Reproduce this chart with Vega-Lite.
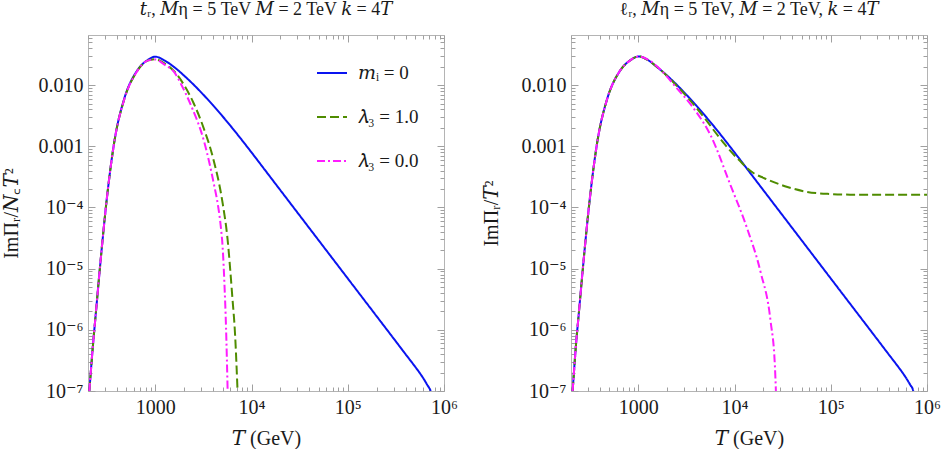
{
  "$schema": "https://vega.github.io/schema/vega-lite/v6.json",
  "padding": {"left": 0, "top": 0, "right": 5, "bottom": 0},
  "bounds": "flush",
  "spacing": 127,
  "config": {
    "font": "Liberation Serif, DejaVu Serif, serif",
    "view": {"stroke": "#b4b4b4", "strokeWidth": 1},
    "axis": {
      "domain": false,
      "grid": false,
      "tickColor": "#a0a0a0",
      "tickWidth": 1,
      "labelFont": "Liberation Serif, DejaVu Serif, serif",
      "labelFontSize": 20,
      "labelColor": "#1a1a1a",
      "labelFlush": false,
      "labelOverlap": false,
      "labelBound": false,
      "titleFont": "Liberation Serif, DejaVu Serif, serif",
      "titleFontSize": 20,
      "titleFontWeight": "normal",
      "titleColor": "#1a1a1a"
    },
    "title": {"font": "Liberation Serif, DejaVu Serif, serif", "fontSize": 18, "fontWeight": "normal", "color": "#1a1a1a", "offset": 9},
    "legend": {
      "orient": "none",
      "legendX": 228,
      "legendY": 22,
      "padding": 0,
      "symbolType": "stroke",
      "symbolSize": 900,
      "symbolStrokeWidth": 2,
      "labelFont": "Liberation Serif, DejaVu Serif, serif",
      "labelFontSize": 19,
      "labelColor": "#1a1a1a",
      "labelOffset": 10,
      "rowPadding": 18
    }
  },
  "datasets": {
    "curves": [
      {"panel": "tR", "series": "mi0", "T": 206.5, "value": 1e-7},
      {"panel": "tR", "series": "mi0", "T": 223.9, "value": 5.01e-7},
      {"panel": "tR", "series": "mi0", "T": 242.1, "value": 2.0e-6},
      {"panel": "tR", "series": "mi0", "T": 272.9, "value": 1.585e-5},
      {"panel": "tR", "series": "mi0", "T": 309.0, "value": 1.122e-4},
      {"panel": "tR", "series": "mi0", "T": 375.0, "value": 1.175e-3},
      {"panel": "tR", "series": "mi0", "T": 476.4, "value": 6.026e-3},
      {"panel": "tR", "series": "mi0", "T": 631.0, "value": 1.622e-2},
      {"panel": "tR", "series": "mi0", "T": 831.8, "value": 2.570e-2},
      {"panel": "tR", "series": "mi0", "T": 1000, "value": 2.917e-2},
      {"panel": "tR", "series": "mi0", "T": 1259, "value": 2.512e-2},
      {"panel": "tR", "series": "mi0", "T": 1585, "value": 1.950e-2},
      {"panel": "tR", "series": "mi0", "T": 1995, "value": 1.429e-2},
      {"panel": "tR", "series": "mi0", "T": 2512, "value": 1.012e-2},
      {"panel": "tR", "series": "mi0", "T": 3162, "value": 6.966e-3},
      {"panel": "tR", "series": "mi0", "T": 3981, "value": 4.688e-3},
      {"panel": "tR", "series": "mi0", "T": 5012, "value": 3.083e-3},
      {"panel": "tR", "series": "mi0", "T": 6310, "value": 1.991e-3},
      {"panel": "tR", "series": "mi0", "T": 7943, "value": 1.265e-3},
      {"panel": "tR", "series": "mi0", "T": 10000, "value": 7.943e-4},
      {"panel": "tR", "series": "mi0", "T": 15850, "value": 3.076e-4},
      {"panel": "tR", "series": "mi0", "T": 25120, "value": 1.191e-4},
      {"panel": "tR", "series": "mi0", "T": 39810, "value": 4.613e-5},
      {"panel": "tR", "series": "mi0", "T": 63100, "value": 1.786e-5},
      {"panel": "tR", "series": "mi0", "T": 100000, "value": 6.918e-6},
      {"panel": "tR", "series": "mi0", "T": 158500, "value": 2.679e-6},
      {"panel": "tR", "series": "mi0", "T": 251200, "value": 1.038e-6},
      {"panel": "tR", "series": "mi0", "T": 316200, "value": 6.457e-7},
      {"panel": "tR", "series": "mi0", "T": 398100, "value": 4.009e-7},
      {"panel": "tR", "series": "mi0", "T": 501200, "value": 2.495e-7},
      {"panel": "tR", "series": "mi0", "T": 562300, "value": 1.950e-7},
      {"panel": "tR", "series": "mi0", "T": 631000, "value": 1.479e-7},
      {"panel": "tR", "series": "mi0", "T": 676100, "value": 1.230e-7},
      {"panel": "tR", "series": "mi0", "T": 707900, "value": 1.096e-7},
      {"panel": "tR", "series": "mi0", "T": 729500, "value": 1e-7},
      {"panel": "tR", "series": "lam1", "T": 206.5, "value": 1e-7},
      {"panel": "tR", "series": "lam1", "T": 223.9, "value": 5.01e-7},
      {"panel": "tR", "series": "lam1", "T": 242.1, "value": 2.0e-6},
      {"panel": "tR", "series": "lam1", "T": 272.9, "value": 1.585e-5},
      {"panel": "tR", "series": "lam1", "T": 309.0, "value": 1.122e-4},
      {"panel": "tR", "series": "lam1", "T": 375.0, "value": 1.175e-3},
      {"panel": "tR", "series": "lam1", "T": 476.4, "value": 5.888e-3},
      {"panel": "tR", "series": "lam1", "T": 631.0, "value": 1.585e-2},
      {"panel": "tR", "series": "lam1", "T": 831.8, "value": 2.512e-2},
      {"panel": "tR", "series": "lam1", "T": 1000, "value": 2.661e-2},
      {"panel": "tR", "series": "lam1", "T": 1259, "value": 2.239e-2},
      {"panel": "tR", "series": "lam1", "T": 1585, "value": 1.660e-2},
      {"panel": "tR", "series": "lam1", "T": 1995, "value": 1.0e-2},
      {"panel": "tR", "series": "lam1", "T": 2512, "value": 5.012e-3},
      {"panel": "tR", "series": "lam1", "T": 3162, "value": 2.042e-3},
      {"panel": "tR", "series": "lam1", "T": 3981, "value": 6.457e-4},
      {"panel": "tR", "series": "lam1", "T": 5012, "value": 1.175e-4},
      {"panel": "tR", "series": "lam1", "T": 5623, "value": 3.162e-5},
      {"panel": "tR", "series": "lam1", "T": 6310, "value": 3.548e-6},
      {"panel": "tR", "series": "lam1", "T": 6761, "value": 7.943e-7},
      {"panel": "tR", "series": "lam1", "T": 7161, "value": 1e-7},
      {"panel": "tR", "series": "lam0", "T": 206.5, "value": 1e-7},
      {"panel": "tR", "series": "lam0", "T": 223.9, "value": 5.01e-7},
      {"panel": "tR", "series": "lam0", "T": 242.1, "value": 2.0e-6},
      {"panel": "tR", "series": "lam0", "T": 272.9, "value": 1.585e-5},
      {"panel": "tR", "series": "lam0", "T": 309.0, "value": 1.122e-4},
      {"panel": "tR", "series": "lam0", "T": 375.0, "value": 1.175e-3},
      {"panel": "tR", "series": "lam0", "T": 476.4, "value": 5.888e-3},
      {"panel": "tR", "series": "lam0", "T": 631.0, "value": 1.585e-2},
      {"panel": "tR", "series": "lam0", "T": 831.8, "value": 2.512e-2},
      {"panel": "tR", "series": "lam0", "T": 1000, "value": 2.630e-2},
      {"panel": "tR", "series": "lam0", "T": 1259, "value": 2.138e-2},
      {"panel": "tR", "series": "lam0", "T": 1574, "value": 1.629e-2},
      {"panel": "tR", "series": "lam0", "T": 1849, "value": 1.047e-2},
      {"panel": "tR", "series": "lam0", "T": 2350, "value": 4.656e-3},
      {"panel": "tR", "series": "lam0", "T": 3228, "value": 1.172e-3},
      {"panel": "tR", "series": "lam0", "T": 4093, "value": 2.296e-4},
      {"panel": "tR", "series": "lam0", "T": 4467, "value": 1.122e-4},
      {"panel": "tR", "series": "lam0", "T": 4786, "value": 5.012e-5},
      {"panel": "tR", "series": "lam0", "T": 5012, "value": 2.239e-5},
      {"panel": "tR", "series": "lam0", "T": 5248, "value": 5.012e-6},
      {"panel": "tR", "series": "lam0", "T": 5433, "value": 1.122e-6},
      {"panel": "tR", "series": "lam0", "T": 5649, "value": 1e-7},
      {"panel": "lR", "series": "mi0", "T": 208.0, "value": 1e-7},
      {"panel": "lR", "series": "mi0", "T": 223.9, "value": 5.01e-7},
      {"panel": "lR", "series": "mi0", "T": 242.1, "value": 2.0e-6},
      {"panel": "lR", "series": "mi0", "T": 272.9, "value": 1.585e-5},
      {"panel": "lR", "series": "mi0", "T": 309.0, "value": 1.122e-4},
      {"panel": "lR", "series": "mi0", "T": 375.0, "value": 1.175e-3},
      {"panel": "lR", "series": "mi0", "T": 476.4, "value": 6.026e-3},
      {"panel": "lR", "series": "mi0", "T": 631.0, "value": 1.622e-2},
      {"panel": "lR", "series": "mi0", "T": 831.8, "value": 2.570e-2},
      {"panel": "lR", "series": "mi0", "T": 1010, "value": 2.944e-2},
      {"panel": "lR", "series": "mi0", "T": 1259, "value": 2.570e-2},
      {"panel": "lR", "series": "mi0", "T": 1585, "value": 1.950e-2},
      {"panel": "lR", "series": "mi0", "T": 1995, "value": 1.429e-2},
      {"panel": "lR", "series": "mi0", "T": 2512, "value": 1.012e-2},
      {"panel": "lR", "series": "mi0", "T": 3162, "value": 6.966e-3},
      {"panel": "lR", "series": "mi0", "T": 3981, "value": 4.688e-3},
      {"panel": "lR", "series": "mi0", "T": 5012, "value": 3.083e-3},
      {"panel": "lR", "series": "mi0", "T": 6310, "value": 1.991e-3},
      {"panel": "lR", "series": "mi0", "T": 7943, "value": 1.265e-3},
      {"panel": "lR", "series": "mi0", "T": 10000, "value": 7.943e-4},
      {"panel": "lR", "series": "mi0", "T": 15850, "value": 3.076e-4},
      {"panel": "lR", "series": "mi0", "T": 25120, "value": 1.191e-4},
      {"panel": "lR", "series": "mi0", "T": 39810, "value": 4.613e-5},
      {"panel": "lR", "series": "mi0", "T": 63100, "value": 1.786e-5},
      {"panel": "lR", "series": "mi0", "T": 100000, "value": 6.918e-6},
      {"panel": "lR", "series": "mi0", "T": 158500, "value": 2.679e-6},
      {"panel": "lR", "series": "mi0", "T": 251200, "value": 1.038e-6},
      {"panel": "lR", "series": "mi0", "T": 316200, "value": 6.457e-7},
      {"panel": "lR", "series": "mi0", "T": 398100, "value": 4.009e-7},
      {"panel": "lR", "series": "mi0", "T": 501200, "value": 2.495e-7},
      {"panel": "lR", "series": "mi0", "T": 562300, "value": 1.950e-7},
      {"panel": "lR", "series": "mi0", "T": 631000, "value": 1.479e-7},
      {"panel": "lR", "series": "mi0", "T": 676100, "value": 1.230e-7},
      {"panel": "lR", "series": "mi0", "T": 707900, "value": 1.096e-7},
      {"panel": "lR", "series": "mi0", "T": 721100, "value": 1e-7},
      {"panel": "lR", "series": "lam1", "T": 208.0, "value": 1e-7},
      {"panel": "lR", "series": "lam1", "T": 223.9, "value": 5.01e-7},
      {"panel": "lR", "series": "lam1", "T": 242.1, "value": 2.0e-6},
      {"panel": "lR", "series": "lam1", "T": 272.9, "value": 1.585e-5},
      {"panel": "lR", "series": "lam1", "T": 309.0, "value": 1.122e-4},
      {"panel": "lR", "series": "lam1", "T": 375.0, "value": 1.175e-3},
      {"panel": "lR", "series": "lam1", "T": 476.4, "value": 6.026e-3},
      {"panel": "lR", "series": "lam1", "T": 631.0, "value": 1.622e-2},
      {"panel": "lR", "series": "lam1", "T": 831.8, "value": 2.570e-2},
      {"panel": "lR", "series": "lam1", "T": 1010, "value": 2.944e-2},
      {"panel": "lR", "series": "lam1", "T": 1259, "value": 2.570e-2},
      {"panel": "lR", "series": "lam1", "T": 1585, "value": 1.950e-2},
      {"panel": "lR", "series": "lam1", "T": 1995, "value": 1.412e-2},
      {"panel": "lR", "series": "lam1", "T": 2512, "value": 9.772e-3},
      {"panel": "lR", "series": "lam1", "T": 3508, "value": 5.495e-3},
      {"panel": "lR", "series": "lam1", "T": 5012, "value": 2.754e-3},
      {"panel": "lR", "series": "lam1", "T": 6310, "value": 1.698e-3},
      {"panel": "lR", "series": "lam1", "T": 7943, "value": 1.072e-3},
      {"panel": "lR", "series": "lam1", "T": 10000, "value": 7.079e-4},
      {"panel": "lR", "series": "lam1", "T": 11750, "value": 5.495e-4},
      {"panel": "lR", "series": "lam1", "T": 13550, "value": 4.365e-4},
      {"panel": "lR", "series": "lam1", "T": 15850, "value": 3.631e-4},
      {"panel": "lR", "series": "lam1", "T": 19950, "value": 3.055e-4},
      {"panel": "lR", "series": "lam1", "T": 25590, "value": 2.600e-4},
      {"panel": "lR", "series": "lam1", "T": 35480, "value": 2.163e-4},
      {"panel": "lR", "series": "lam1", "T": 56750, "value": 1.799e-4},
      {"panel": "lR", "series": "lam1", "T": 100000, "value": 1.660e-4},
      {"panel": "lR", "series": "lam1", "T": 158500, "value": 1.622e-4},
      {"panel": "lR", "series": "lam1", "T": 316200, "value": 1.614e-4},
      {"panel": "lR", "series": "lam1", "T": 1000000, "value": 1.614e-4},
      {"panel": "lR", "series": "lam0", "T": 208.0, "value": 1e-7},
      {"panel": "lR", "series": "lam0", "T": 223.9, "value": 5.01e-7},
      {"panel": "lR", "series": "lam0", "T": 242.1, "value": 2.0e-6},
      {"panel": "lR", "series": "lam0", "T": 272.9, "value": 1.585e-5},
      {"panel": "lR", "series": "lam0", "T": 309.0, "value": 1.122e-4},
      {"panel": "lR", "series": "lam0", "T": 375.0, "value": 1.175e-3},
      {"panel": "lR", "series": "lam0", "T": 476.4, "value": 6.026e-3},
      {"panel": "lR", "series": "lam0", "T": 631.0, "value": 1.622e-2},
      {"panel": "lR", "series": "lam0", "T": 831.8, "value": 2.570e-2},
      {"panel": "lR", "series": "lam0", "T": 1010, "value": 2.944e-2},
      {"panel": "lR", "series": "lam0", "T": 1318, "value": 2.512e-2},
      {"panel": "lR", "series": "lam0", "T": 1710, "value": 1.778e-2},
      {"panel": "lR", "series": "lam0", "T": 2512, "value": 8.913e-3},
      {"panel": "lR", "series": "lam0", "T": 3793, "value": 4.102e-3},
      {"panel": "lR", "series": "lam0", "T": 5649, "value": 1.507e-3},
      {"panel": "lR", "series": "lam0", "T": 9099, "value": 2.296e-4},
      {"panel": "lR", "series": "lam0", "T": 13550, "value": 4.498e-5},
      {"panel": "lR", "series": "lam0", "T": 18620, "value": 8.913e-6},
      {"panel": "lR", "series": "lam0", "T": 23660, "value": 1.413e-6},
      {"panel": "lR", "series": "lam0", "T": 26300, "value": 2.512e-7},
      {"panel": "lR", "series": "lam0", "T": 26920, "value": 1e-7}
    ]
  },
  "resolve": {"scale": {"color": "independent", "strokeDash": "independent"}},
  "hconcat": [
    {
      "width": 356,
      "height": 356,
      "title": "𝑡ᵣ,  𝑀η = 5 TeV  𝑀 = 2 TeV  𝑘 = 4𝑇",
      "data": {"name": "curves"},
      "transform": [{"filter": "datum.panel == 'tR'"}],
      "resolve": {"axis": {"x": "independent", "y": "independent"}},
      "layer": [
        {
          "mark": {"type": "line", "strokeWidth": 2, "clip": true, "interpolate": "monotone"},
          "encoding": {
            "x": {
              "field": "T", "type": "quantitative",
              "scale": {"type": "log", "domain": [200, 1000000]},
              "axis": {
                "orient": "bottom", "title": "𝑇 (GeV)",
                "values": [200,300,400,500,600,700,800,900,1000,2000,3000,4000,5000,6000,7000,8000,9000,10000,20000,30000,40000,50000,60000,70000,80000,90000,100000,200000,300000,400000,500000,600000,700000,800000,900000,1000000],
                "tickSize": {"condition": {"test": "abs(log(datum.value)/LN10 - round(log(datum.value)/LN10)) < 0.001", "value": -7}, "value": -4},
                "labelPadding": 13,
                "titlePadding": 8,
                "labelExpr": "datum.value == 1000 ? '1000' : datum.value == 10000 ? '10⁴' : datum.value == 100000 ? '10⁵' : datum.value == 1000000 ? '10⁶' : ''"
              }
            },
            "y": {
              "field": "value", "type": "quantitative",
              "scale": {"type": "log", "domain": [1e-7, 0.066]},
              "axis": {
                "orient": "left", "title": "ImΠᵣ/𝑁꜀𝑇²",
                "values": [1e-7,2e-7,3e-7,4e-7,5e-7,6e-7,7e-7,8e-7,9e-7,1e-6,2e-6,3e-6,4e-6,5e-6,6e-6,7e-6,8e-6,9e-6,1e-5,2e-5,3e-5,4e-5,5e-5,6e-5,7e-5,8e-5,9e-5,1e-4,2e-4,3e-4,4e-4,5e-4,6e-4,7e-4,8e-4,9e-4,0.001,0.002,0.003,0.004,0.005,0.006,0.007,0.008,0.009,0.01,0.02,0.03,0.04,0.05,0.06],
                "tickSize": {"condition": {"test": "abs(log(datum.value)/LN10 - round(log(datum.value)/LN10)) < 0.001", "value": -7}, "value": -4},
                "labelPadding": 12,
                "minExtent": 50,
                "maxExtent": 50,
                "titlePadding": 17,
                "labelExpr": "abs(datum.value/0.01-1) < 0.000001 ? '0.010' : abs(datum.value/0.001-1) < 0.000001 ? '0.001' : abs(datum.value/0.0001-1) < 0.000001 ? '10⁻⁴' : abs(datum.value/0.00001-1) < 0.000001 ? '10⁻⁵' : abs(datum.value/0.000001-1) < 0.000001 ? '10⁻⁶' : abs(datum.value/0.0000001-1) < 0.000001 ? '10⁻⁷' : ''"
              }
            },
            "color": {
              "field": "series", "type": "nominal",
              "scale": {"domain": ["mi0", "lam1", "lam0"], "range": ["#0a14f0", "#4f8c00", "#ff1cff"]},
              "legend": {"title": null, "labelExpr": "datum.value == 'mi0' ? '𝑚ᵢ = 0' : datum.value == 'lam1' ? '𝜆₃ = 1.0' : '𝜆₃ = 0.0'"}
            },
            "strokeDash": {
              "field": "series", "type": "nominal",
              "scale": {"domain": ["mi0", "lam1", "lam0"], "range": [[1, 0], [9, 4], [8, 3, 2, 3]]},
              "legend": {"title": null, "labelExpr": "datum.value == 'mi0' ? '𝑚ᵢ = 0' : datum.value == 'lam1' ? '𝜆₃ = 1.0' : '𝜆₃ = 0.0'"}
            }
          }
        },
        {
          "mark": {"type": "line", "opacity": 0},
          "encoding": {
            "x": {
              "field": "T", "type": "quantitative",
              "scale": {"type": "log", "domain": [200, 1000000]},
              "axis": {
                "orient": "top", "title": null, "labels": false,
                "values": [200,300,400,500,600,700,800,900,1000,2000,3000,4000,5000,6000,7000,8000,9000,10000,20000,30000,40000,50000,60000,70000,80000,90000,100000,200000,300000,400000,500000,600000,700000,800000,900000,1000000],
                "tickSize": {"condition": {"test": "abs(log(datum.value)/LN10 - round(log(datum.value)/LN10)) < 0.001", "value": -7}, "value": -4}
              }
            },
            "y": {
              "field": "value", "type": "quantitative",
              "scale": {"type": "log", "domain": [1e-7, 0.066]},
              "axis": {
                "orient": "right", "title": null, "labels": false,
                "values": [1e-7,2e-7,3e-7,4e-7,5e-7,6e-7,7e-7,8e-7,9e-7,1e-6,2e-6,3e-6,4e-6,5e-6,6e-6,7e-6,8e-6,9e-6,1e-5,2e-5,3e-5,4e-5,5e-5,6e-5,7e-5,8e-5,9e-5,1e-4,2e-4,3e-4,4e-4,5e-4,6e-4,7e-4,8e-4,9e-4,0.001,0.002,0.003,0.004,0.005,0.006,0.007,0.008,0.009,0.01,0.02,0.03,0.04,0.05,0.06],
                "tickSize": {"condition": {"test": "abs(log(datum.value)/LN10 - round(log(datum.value)/LN10)) < 0.001", "value": -7}, "value": -4}
              }
            },
            "detail": {"field": "series", "type": "nominal"}
          }
        }
      ]
    },
    {
      "width": 356,
      "height": 356,
      "title": "ℓᵣ,  𝑀η = 5 TeV, 𝑀 = 2 TeV, 𝑘 = 4𝑇",
      "data": {"name": "curves"},
      "transform": [{"filter": "datum.panel == 'lR'"}],
      "resolve": {"axis": {"x": "independent", "y": "independent"}},
      "layer": [
        {
          "mark": {"type": "line", "strokeWidth": 2, "clip": true, "interpolate": "monotone"},
          "encoding": {
            "x": {
              "field": "T", "type": "quantitative",
              "scale": {"type": "log", "domain": [200, 1000000]},
              "axis": {
                "orient": "bottom", "title": "𝑇 (GeV)",
                "values": [200,300,400,500,600,700,800,900,1000,2000,3000,4000,5000,6000,7000,8000,9000,10000,20000,30000,40000,50000,60000,70000,80000,90000,100000,200000,300000,400000,500000,600000,700000,800000,900000,1000000],
                "tickSize": {"condition": {"test": "abs(log(datum.value)/LN10 - round(log(datum.value)/LN10)) < 0.001", "value": -7}, "value": -4},
                "labelPadding": 13,
                "titlePadding": 8,
                "labelExpr": "datum.value == 1000 ? '1000' : datum.value == 10000 ? '10⁴' : datum.value == 100000 ? '10⁵' : datum.value == 1000000 ? '10⁶' : ''"
              }
            },
            "y": {
              "field": "value", "type": "quantitative",
              "scale": {"type": "log", "domain": [1e-7, 0.066]},
              "axis": {
                "orient": "left", "title": "ImΠᵣ/𝑇²",
                "values": [1e-7,2e-7,3e-7,4e-7,5e-7,6e-7,7e-7,8e-7,9e-7,1e-6,2e-6,3e-6,4e-6,5e-6,6e-6,7e-6,8e-6,9e-6,1e-5,2e-5,3e-5,4e-5,5e-5,6e-5,7e-5,8e-5,9e-5,1e-4,2e-4,3e-4,4e-4,5e-4,6e-4,7e-4,8e-4,9e-4,0.001,0.002,0.003,0.004,0.005,0.006,0.007,0.008,0.009,0.01,0.02,0.03,0.04,0.05,0.06],
                "tickSize": {"condition": {"test": "abs(log(datum.value)/LN10 - round(log(datum.value)/LN10)) < 0.001", "value": -7}, "value": -4},
                "labelPadding": 12,
                "minExtent": 50,
                "maxExtent": 50,
                "titlePadding": 20,
                "labelExpr": "abs(datum.value/0.01-1) < 0.000001 ? '0.010' : abs(datum.value/0.001-1) < 0.000001 ? '0.001' : abs(datum.value/0.0001-1) < 0.000001 ? '10⁻⁴' : abs(datum.value/0.00001-1) < 0.000001 ? '10⁻⁵' : abs(datum.value/0.000001-1) < 0.000001 ? '10⁻⁶' : abs(datum.value/0.0000001-1) < 0.000001 ? '10⁻⁷' : ''"
              }
            },
            "color": {
              "field": "series", "type": "nominal",
              "scale": {"domain": ["mi0", "lam1", "lam0"], "range": ["#0a14f0", "#4f8c00", "#ff1cff"]},
              "legend": null
            },
            "strokeDash": {
              "field": "series", "type": "nominal",
              "scale": {"domain": ["mi0", "lam1", "lam0"], "range": [[1, 0], [9, 4], [8, 3, 2, 3]]},
              "legend": null
            }
          }
        },
        {
          "mark": {"type": "line", "opacity": 0},
          "encoding": {
            "x": {
              "field": "T", "type": "quantitative",
              "scale": {"type": "log", "domain": [200, 1000000]},
              "axis": {
                "orient": "top", "title": null, "labels": false,
                "values": [200,300,400,500,600,700,800,900,1000,2000,3000,4000,5000,6000,7000,8000,9000,10000,20000,30000,40000,50000,60000,70000,80000,90000,100000,200000,300000,400000,500000,600000,700000,800000,900000,1000000],
                "tickSize": {"condition": {"test": "abs(log(datum.value)/LN10 - round(log(datum.value)/LN10)) < 0.001", "value": -7}, "value": -4}
              }
            },
            "y": {
              "field": "value", "type": "quantitative",
              "scale": {"type": "log", "domain": [1e-7, 0.066]},
              "axis": {
                "orient": "right", "title": null, "labels": false,
                "values": [1e-7,2e-7,3e-7,4e-7,5e-7,6e-7,7e-7,8e-7,9e-7,1e-6,2e-6,3e-6,4e-6,5e-6,6e-6,7e-6,8e-6,9e-6,1e-5,2e-5,3e-5,4e-5,5e-5,6e-5,7e-5,8e-5,9e-5,1e-4,2e-4,3e-4,4e-4,5e-4,6e-4,7e-4,8e-4,9e-4,0.001,0.002,0.003,0.004,0.005,0.006,0.007,0.008,0.009,0.01,0.02,0.03,0.04,0.05,0.06],
                "tickSize": {"condition": {"test": "abs(log(datum.value)/LN10 - round(log(datum.value)/LN10)) < 0.001", "value": -7}, "value": -4}
              }
            },
            "detail": {"field": "series", "type": "nominal"}
          }
        }
      ]
    }
  ]
}
